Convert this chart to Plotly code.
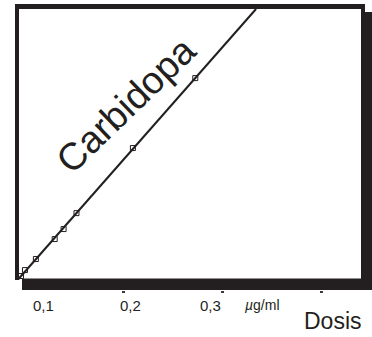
import numpy as np
import plotly.graph_objects as go

# Calibration data: Carbidopa dose (µg/ml) vs. detector response (relative units)
dose = [0.097, 0.101, 0.112, 0.131, 0.140, 0.153, 0.210, 0.273]
response = [0.011, 0.033, 0.074, 0.148, 0.185, 0.244, 0.485, 0.744]
series_name = "Carbidopa"

# Axis ticks and their labels
tick_marks = [0.2, 0.3, 0.4]
label_values = [0.1, 0.2, 0.3]
label_text = ["0,1", "0,2", "0,3"]
unit_text = "<i>µ</i>g/ml"
axis_title = "Dosis"

INK = "#231f20"
W, H = 372, 337
# the plotting area spans the framed box including its drop shadow
L, R, T, B = 15, 0, 4, 47
PW, PH = W - L - R, H - T - B
X_RANGE = [0.09091, 0.45152]
Y_RANGE = [-0.04074, 1.01852]
FIELD = (0.0, 1.0)  # response span of the white field inside the frame
LABEL_XSHIFT = [19, 7, -12]


def fx(px):
    return (px - L) / PW


def fy(py):
    return (H - B - py) / PH


# least-squares calibration line, drawn across the white field
slope, intercept = np.polyfit(dose, response, 1)
fit_y = np.array(FIELD)
fit_x = (fit_y - intercept) / slope

fig = go.Figure()
fig.add_trace(go.Scatter(x=fit_x, y=fit_y, mode="lines",
                         line=dict(color=INK, width=2), hoverinfo="skip"))
fig.add_trace(go.Scatter(x=dose, y=response, mode="markers",
                         marker=dict(symbol="square-open", size=5, color=INK,
                                     line=dict(width=1, color=INK))))


def block(x0, x1, y0, y1, color=INK, layer="above"):
    return dict(type="rect", xref="paper", yref="paper", layer=layer,
                x0=fx(x0), x1=fx(x1), y0=fy(y0), y1=fy(y1),
                fillcolor=color, line=dict(width=0))


shapes = [
    # drop shadow and the white field on top of it
    block(22, 372, 12, 290, layer="below"),
    block(19, 361, 9, 278.5, color="white", layer="below"),
    # frame borders
    block(15, 19, 4, 280),
    block(15, 365, 4, 9),
    block(361, 365, 4, 12),
]

annotations = []
for v, t, s in zip(label_values, label_text, LABEL_XSHIFT):
    annotations.append(dict(x=v, y=fy(305), xref="x", yref="paper", text=t,
                            xshift=s, showarrow=False, xanchor="center", yanchor="middle",
                            font=dict(family="Liberation Sans", size=15, color=INK)))
annotations.append(dict(x=fx(262), y=fy(305), xref="paper", yref="paper", text=unit_text,
                        showarrow=False, xanchor="center", yanchor="middle",
                        font=dict(family="Liberation Sans", size=14, color=INK)))
annotations.append(dict(x=fx(333), y=fy(321), xref="paper", yref="paper", text=axis_title,
                        showarrow=False, xanchor="center", yanchor="middle",
                        font=dict(family="Liberation Sans", size=23, color=INK)))
annotations.append(dict(x=0.203, y=0.645, xref="x", yref="y", text=series_name,
                        textangle=-44, showarrow=False, xanchor="center", yanchor="middle",
                        font=dict(family="Liberation Sans", size=38, color=INK)))

fig.update_layout(
    width=W, height=H,
    margin=dict(l=L, r=R, t=T, b=B, pad=0),
    paper_bgcolor="white", plot_bgcolor="rgba(0,0,0,0)",
    showlegend=False,
    shapes=shapes, annotations=annotations,
    xaxis=dict(range=X_RANGE, showgrid=False, zeroline=False, showline=False,
               ticks="outside", tickvals=tick_marks, ticklen=2, tickwidth=3,
               tickcolor="#3a3a3a", showticklabels=False, fixedrange=True),
    yaxis=dict(range=Y_RANGE, showgrid=False, zeroline=False, showline=False,
               ticks="", showticklabels=False, fixedrange=True),
)

fig.write_html("out.html", config=dict(displayModeBar=False))
